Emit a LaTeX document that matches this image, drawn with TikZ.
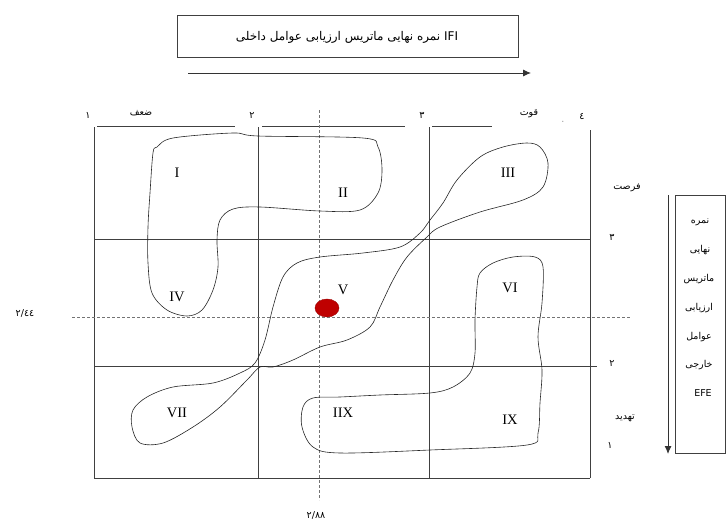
\documentclass[tikz,border=0pt]{standalone}
\usepackage{fontspec}
\setmainfont{Liberation Serif}
\newfontfamily\fafont[Script=Arabic]{DejaVu Sans}
\TeXXeTstate=1
\usetikzlibrary{arrows.meta}
\tikzset{
	gridline/.style={draw=black!75, line width=0.9pt},
	guide/.style={draw=black!55, densely dashed, line width=0.6pt},
	blob/.style={draw=black!85, line width=0.6pt},
	numeral/.style={font=\fontsize{14.5}{16}\selectfont, inner sep=0pt},
	fa/.style={font=\fontsize{9.5}{11}\fafont, inner sep=0pt},
	fabig/.style={font=\fontsize{12}{14}\fafont, inner sep=0pt},
	axisarrow/.style={draw=black!80, line width=0.9pt, -{Latex[length=8pt,width=7pt]}},
}

\begin{document}
\begin{tikzpicture}[x=1pt, y=-1pt]
			%%%%% START %%%%%
			\useasboundingbox (0,0) rectangle (726,522);
			
			% top box and arrow (IFE)
			\draw[gridline, line width=0.7pt] (177,15) rectangle (518,57);
			\node[fabig] (ifetitle) at (347,37) {\beginR IFI نمره نهایی ماتریس ارزیابی عوامل داخلی\endR};
			\coordinate (ifefrom) at (188,73);
			\coordinate (ifeto) at (531,73);
			\draw[axisarrow] (ifefrom) -- (ifeto);
			
			% right box and arrow (EFE)
			\draw[gridline, line width=0.7pt] (675,195) rectangle (725,453);
			\coordinate (efefrom) at (668,195);
			\coordinate (efeto) at (668,454);
			\draw[axisarrow] (efefrom) -- (efeto);
			\node[fa] (efe1) at (700,222) {نمره};
			\node[fa] (efe2) at (700,250) {نهایی};
			\node[fa] (efe3) at (699,279) {ماتریس};
			\node[fa] (efe4) at (699,308) {ارزیابی};
			\node[fa] (efe5) at (699,337) {عوامل};
			\node[fa] (efe6) at (699,365) {خارجی};
			\node[fa] (efe7) at (703,393) {EFE};
			
			% grid
			\draw[gridline] (97,126) -- (235,126);
			\draw[gridline] (262,126) -- (405,126);
			\draw[gridline] (432,126) -- (492,126);
			\draw[gridline] (94,127) -- (94,478);
			\draw[gridline] (258,127) -- (258,478);
			\draw[gridline] (429,127) -- (429,478);
			\draw[gridline] (590,130) -- (590,478);
			\draw[gridline] (94,239) -- (590,239);
			\draw[gridline] (94,366) -- (597,366);
			\draw[gridline] (94,478) -- (590,478);
			
			% top scale
			\node[fa] (top1) at (88,115) {۱};
			\node[fa] (weak) at (141,113) {ضعف};
			\node[fa] (top2) at (252,115) {۲};
			\node[fa] (top3) at (422,115) {۳};
			\node[fa] (strong) at (529,114) {قوت};
			\node[fa, text=black!40] (topdot) at (563,122) {.};
			\node[fa] (top4) at (582,117) {٤};
			
			% right scale
			\node[fa] (chance) at (627,188) {فرصت};
			\node[fa] (right3) at (612,237) {۳};
			\node[fa] (right2) at (612,363) {۲};
			\node[fa] (threat) at (625,418) {تهدید};
			\node[fa] (right1) at (610,445) {۱};
			
			% position lines
			\draw[guide] (72,317) -- (630,317);
			\draw[guide] (319,110) -- (319,500);
			\node[fa] (efescore) at (25,313) {٢/٤٤};
			\node[fa] (ifescore) at (316,515) {٢/٨٨};
			
			% regions
			\draw[blob] plot[smooth cycle, tension=0.55] coordinates {
				(157,147) (173,138) (233,133) (258,136) (363,138) (378,147)
				(382,170) (378,193) (360,210) (320,211) (260,207) (233,209)
				(220,220) (217,240) (218,267) (213,290) (202,310) (187,316)
				(167,310) (152,293) (148,263) (148,227) (150,193) (153,153)};
			\draw[blob] plot[smooth cycle, tension=0.55] coordinates {
				(540,147) (548,163) (543,187) (523,200) (480,212) (440,227)
				(427,237) (407,257) (393,280) (380,307) (370,327) (347,340)
				(320,347) (293,360) (273,367) (260,367) (247,380) (220,407)
				(193,427) (163,443) (140,443) (132,427) (133,410) (147,397)
				(173,387) (213,383) (240,373) (255,363) (265,340) (273,307)
				(283,277) (297,263) (320,257) (363,253) (400,247) (420,233)
				(430,220) (443,203) (457,180) (480,157) (503,147) (527,143)};
			\draw[blob] plot[smooth cycle, tension=0.55] coordinates {
				(493,263) (513,257) (535,257) (543,267) (542,303) (538,337)
				(542,370) (540,403) (538,433) (527,445) (430,450) (340,453)
				(313,447) (302,427) (303,407) (313,398) (340,397) (380,395)
				(430,393) (453,387) (470,373) (475,353) (475,320) (477,287)
				(480,273)};
			
			% region numbers
			\node[numeral] (r1) at (177,173) {I};
			\node[numeral] (r2) at (343,193) {II};
			\node[numeral] (r3) at (508,173) {III};
			\node[numeral] (r4) at (177,297) {IV};
			\node[numeral] (r5) at (343,290) {V};
			\node[numeral] (r6) at (510,288) {VI};
			\node[numeral] (r7) at (177,413) {VII};
			\node[numeral] (r8) at (343,413) {IIX};
			\node[numeral] (r9) at (510,420) {IX};
			
			% position of the firm
			\draw[fill=red!75!black, draw=red!60!black] (327,308) ellipse (12 and 9);
			%%%%% END %%%%%
		\end{tikzpicture}
\end{document}
